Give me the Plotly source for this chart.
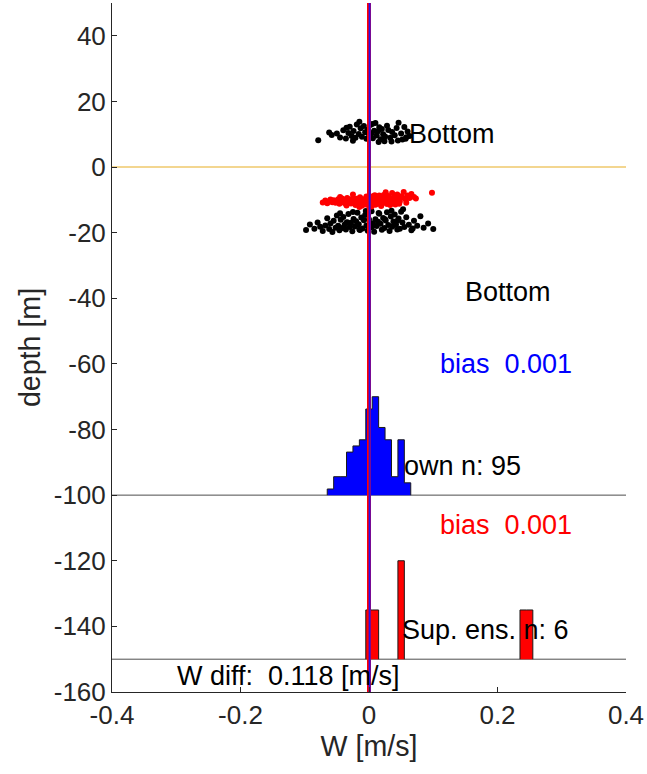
import plotly.graph_objects as go

# ---------------- data ----------------
x_up = [-0.079, -0.062, -0.058, -0.050, -0.045, -0.040, -0.036, -0.032, -0.030, -0.027, -0.024, -0.021,
        -0.019, -0.016, -0.013, -0.011, -0.008, -0.006, -0.004, -0.002, 0.000, 0.002, 0.004, 0.006,
        0.008, 0.010, 0.012, 0.014, 0.016, 0.018, 0.020, 0.022, 0.025, 0.028, 0.030, 0.033, 0.036,
        0.040, 0.043, 0.046, 0.050, 0.052, 0.055, 0.058, 0.060, 0.063, -0.035, -0.015, 0.005, 0.024,
        0.045, 0.015, -0.025, 0.035, 0.057]
y_up = [8.2, 10.5, 9.8, 10.2, 9.0, 11.2, 8.7, 10.4, 12.3, 9.5, 11.0, 8.9, 13.0, 10.1, 11.8, 9.2, 12.5,
        10.6, 8.6, 11.4, 9.9, 12.8, 10.3, 8.8, 11.1, 13.4, 9.6, 10.9, 12.1, 8.5, 11.6, 10.0, 9.3, 12.6,
        11.3, 8.9, 10.7, 9.7, 11.9, 13.5, 10.2, 8.4, 12.2, 9.1, 10.8, 9.5, 12.0, 13.8, 13.1, 7.9, 8.1,
        7.6, 8.0, 7.8, 8.6]

x_red = [-0.072, -0.068, -0.065, -0.062, -0.060, -0.057, -0.055, -0.052, -0.050, -0.048, -0.046, -0.044,
         -0.042, -0.040, -0.038, -0.036, -0.034, -0.032, -0.030, -0.028, -0.027, -0.025, -0.023, -0.021,
         -0.019, -0.018, -0.016, -0.014, -0.012, -0.011, -0.009, -0.007, -0.005, -0.004, -0.002, 0.000,
         0.001, 0.003, 0.005, 0.006, 0.008, 0.010, 0.011, 0.013, 0.015, 0.016, 0.018, 0.020, 0.021,
         0.023, 0.025, 0.027, 0.028, 0.030, 0.032, 0.034, 0.036, 0.038, 0.040, 0.042, 0.044, 0.046,
         0.048, 0.050, 0.052, 0.054, 0.057, 0.060, 0.063, 0.066, 0.070, 0.073, 0.098, -0.035, -0.015,
         0.004, 0.019, 0.033, 0.047, -0.025, 0.009, 0.026, 0.041, -0.045, 0.058]
y_red = [-10.8, -10.2, -11.0, -10.5, -9.9, -10.7, -10.1, -10.9, -10.3, -9.8, -11.2, -10.4, -9.6, -10.8,
         -10.0, -11.3, -9.4, -10.6, -9.9, -11.1, -10.2, -9.5, -10.8, -11.6, -9.7, -10.3, -11.0, -9.2,
         -10.5, -11.8, -9.8, -10.1, -11.4, -9.0, -10.7, -11.9, -9.6, -10.2, -11.1, -8.9, -10.4, -11.5,
         -9.3, -10.0, -11.2, -8.7, -10.6, -9.5, -11.0, -8.5, -10.1, -9.2, -11.3, -8.8, -10.3, -9.6, -7.9,
         -10.8, -9.0, -10.0, -8.4, -9.7, -10.5, -8.9, -9.3, -7.6, -9.8, -8.7, -9.4, -8.2, -9.1, -9.6,
         -7.8, -11.7, -12.2, -12.0, -11.9, -11.6, -11.2, -8.4, -8.6, -7.7, -11.4, -9.1, -10.9]

x_low = [-0.098, -0.092, -0.085, -0.080, -0.076, -0.072, -0.068, -0.065, -0.062, -0.060, -0.057, -0.055,
         -0.052, -0.050, -0.048, -0.046, -0.044, -0.042, -0.040, -0.038, -0.036, -0.034, -0.032, -0.030,
         -0.028, -0.026, -0.024, -0.022, -0.020, -0.018, -0.016, -0.014, -0.012, -0.010, -0.008, -0.006,
         -0.004, -0.002, 0.000, 0.002, 0.004, 0.006, 0.008, 0.010, 0.012, 0.014, 0.016, 0.018, 0.020,
         0.022, 0.024, 0.026, 0.028, 0.030, 0.032, 0.034, 0.036, 0.038, 0.040, 0.042, 0.044, 0.046,
         0.048, 0.050, 0.052, 0.055, 0.058, 0.062, 0.066, 0.070, 0.075, 0.080, 0.085, 0.092, 0.100,
         -0.045, -0.025, -0.005, 0.015, 0.035, 0.053, -0.035, 0.005, 0.045, 0.068, -0.015, 0.025]
y_low = [-19.2, -17.5, -18.8, -16.9, -18.2, -19.5, -17.8, -15.6, -18.9, -17.2, -19.8, -16.4, -18.5, -14.8,
         -17.9, -19.3, -16.1, -18.6, -15.2, -17.6, -19.0, -16.8, -14.3, -18.3, -17.0, -19.6, -15.8, -18.1,
         -16.5, -13.9, -17.4, -19.2, -15.4, -18.7, -16.2, -14.6, -17.8, -19.4, -16.0, -18.4, -13.5, -17.1,
         -19.7, -15.9, -18.0, -16.7, -14.2, -17.3, -19.1, -15.5, -18.6, -16.3, -13.8, -17.7, -19.5, -15.1,
         -18.2, -16.6, -14.5, -17.5, -19.0, -15.7, -18.8, -13.6, -16.9, -18.3, -15.3, -17.6, -19.3, -16.4,
         -17.9, -15.0, -18.5, -17.2, -18.9, -14.1, -13.7, -13.4, -14.0, -13.3, -12.9, -17.0, -18.1, -16.2,
         -18.7, -19.0, -15.9]

# histogram of own ensemble (bin width 0.01)
own_bin_left = [-0.065, -0.055, -0.045, -0.035, -0.025, -0.015, -0.005, 0.005, 0.015, 0.025, 0.035, 0.045, 0.055]
own_counts = [1, 3, 3, 7, 8, 9, 14, 16, 11, 9, 3, 9, 2]
# histogram of super ensemble
sup_bin_left = [-0.005, 0.005, 0.045, 0.235, 0.245]
sup_counts = [1, 1, 2, 1, 1]
bin_width = 0.01
hist_height = 30
own_base = -100
sup_base = -150

bias_own = 0.001
bias_sup = 0.001
w_diff = 0.118

FONT = "Liberation Sans, Arial, Helvetica, sans-serif"
AX = "#262626"
TICK_SIZE = 26
LABEL_SIZE = 28.6
TEXT_SIZE = 27


def stairs(lefts, counts, base):
    scale = hist_height / max(counts)
    xs, ys = [], []
    prev_right = None
    for l, c in zip(lefts, counts):
        r = l + bin_width
        if prev_right is None or abs(l - prev_right) > 1e-9:
            if prev_right is not None:
                xs += [prev_right, None]
                ys += [base, None]
            xs.append(l)
            ys.append(base)
        xs += [l, r]
        ys += [base + c * scale, base + c * scale]
        prev_right = r
    xs.append(prev_right)
    ys.append(base)
    return xs, ys


fig = go.Figure()

# horizontal reference lines
fig.add_trace(go.Scatter(x=[-0.4, 0.4], y=[0, 0], mode="lines",
                         line=dict(color="#EFC96B", width=1.5), showlegend=False))
fig.add_trace(go.Scatter(x=[-0.4, 0.4], y=[own_base, own_base], mode="lines",
                         line=dict(color="#4d4d4d", width=1), showlegend=False))
fig.add_trace(go.Scatter(x=[-0.4, 0.4], y=[sup_base, sup_base], mode="lines",
                         line=dict(color="#4d4d4d", width=1), showlegend=False))

# histograms
hx, hy = stairs(own_bin_left, own_counts, own_base)
fig.add_trace(go.Scatter(x=hx, y=hy, mode="lines", fill="toself", fillcolor="#0000FF",
                         line=dict(color="#1a1a1a", width=1), showlegend=False))
sx, sy = stairs(sup_bin_left, sup_counts, sup_base)
fig.add_trace(go.Scatter(x=sx, y=sy, mode="lines", fill="toself", fillcolor="#FF0000",
                         line=dict(color="#1a1a1a", width=1), showlegend=False))

# scatter groups
fig.add_trace(go.Scatter(x=x_up, y=y_up, mode="markers",
                         marker=dict(color="black", size=6), showlegend=False))
fig.add_trace(go.Scatter(x=x_low, y=y_low, mode="markers",
                         marker=dict(color="black", size=6), showlegend=False))
fig.add_trace(go.Scatter(x=x_red, y=y_red, mode="markers",
                         marker=dict(color="#FF0000", size=6), showlegend=False))

# vertical lines
fig.add_trace(go.Scatter(x=[0, 0], y=[-160, 50], mode="lines",
                         line=dict(color="#FF0000", width=4), showlegend=False))
fig.add_trace(go.Scatter(x=[bias_own, bias_own], y=[-160, 50], mode="lines",
                         line=dict(color="#2A10E8", width=2), showlegend=False))

NB = "\u00a0"
texts = [
    (0.064, 10, "Bottom", "black"),
    (0.151, -38, "Bottom", "black"),
    (0.112, -60, f"bias{NB}{NB}{bias_own:.3f}", "#0000FF"),
    (0.056, -91, "own n: 95", "black"),
    (0.112, -109, f"bias{NB}{NB}{bias_sup:.3f}", "#FF0000"),
    (0.053, -141, "Sup. ens. n: 6", "black"),
    (-0.297, -155, f"W diff:{NB}{NB}{w_diff:.3f} [m/s]", "black"),
]
for x, y, t, c in texts:
    fig.add_annotation(x=x, y=y, text=t, showarrow=False, xanchor="left", yanchor="middle",
                       font=dict(family=FONT, size=TEXT_SIZE, color=c), xshift=-3)

fig.update_layout(
    width=647, height=774,
    margin=dict(l=112, r=21, t=3, b=82),
    paper_bgcolor="white", plot_bgcolor="white",
    font=dict(family=FONT, color=AX, size=TICK_SIZE),
    xaxis=dict(range=[-0.4, 0.4], tickvals=[-0.4, -0.2, 0, 0.2, 0.4],
               ticktext=["-0.4", "-0.2", "0", "0.2", "0.4"],
               showline=True, linecolor=AX, linewidth=1, ticks="inside", ticklen=5,
               tickcolor=AX, showgrid=False, zeroline=False,
               title=dict(text="W [m/s]", font=dict(size=LABEL_SIZE), standoff=4),
               tickfont=dict(size=TICK_SIZE)),
    yaxis=dict(range=[-160, 50], tickvals=list(range(-160, 41, 20)),
               ticktext=[str(v) for v in range(-160, 41, 20)],
               showline=True, linecolor=AX, linewidth=1, ticks="inside", ticklen=5,
               tickcolor=AX, showgrid=False, zeroline=False,
               title=dict(text="depth [m]", font=dict(size=LABEL_SIZE), standoff=4),
               tickfont=dict(size=TICK_SIZE)),
)

fig.write_html("out.html", config={"displayModeBar": False},
               post_script="document.body.style.margin='0';document.body.style.padding='0';")
